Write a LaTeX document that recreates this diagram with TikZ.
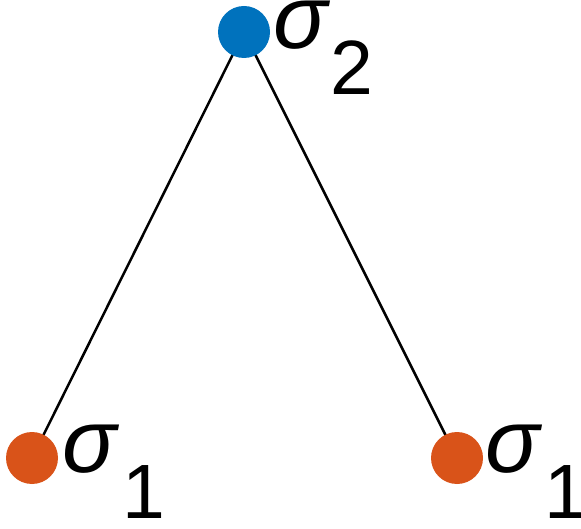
\documentclass[tikz,border=0pt]{standalone}
\usepackage{fontspec}
\setmainfont{Liberation Sans}
\usetikzlibrary{positioning}
\definecolor{mblue}{RGB}{0,114,189}
\definecolor{morange}{RGB}{217,83,25}

\begin{document}
\begin{tikzpicture}[x=1pt,y=-1pt,
  site/.style={circle,inner sep=0pt,minimum size=52pt},
  sym/.style={anchor=base west,inner sep=0pt,text height=0.55em,text depth=0.02em,
    font=\fontsize{90}{90}\selectfont\itshape},
  idx/.style={anchor=base west,inner sep=0pt,text height=0.72em,text depth=0pt,
    font=\fontsize{77}{84}\selectfont}]
 \useasboundingbox (0,0) rectangle (581,529);
 % connectors first, sites on top
 \coordinate (top) at (244,32);
 \coordinate (left) at (32,458);
 \coordinate (right) at (457,458);
 \draw[line width=2.5pt] (top) -- (left);
 \draw[line width=2.5pt] (top) -- (right);
 % sites
 \node[site,fill=mblue] (ntop) at (top) {};
 \node[site,fill=morange] (nleft) at (left) {};
 \node[site,fill=morange] (nright) at (right) {};
 % labels
 \node[sym] (stop) at (273,49) {σ};
 \node[idx] (itop) at (330,95) {2};
 \node[sym] (sleft) at (62,472) {σ};
 \node[idx] (ileft) at (122,518) {1};
 \node[sym] (sright) at (485,472) {σ};
 \node[idx] (iright) at (544,518) {1};
\end{tikzpicture}
\end{document}
